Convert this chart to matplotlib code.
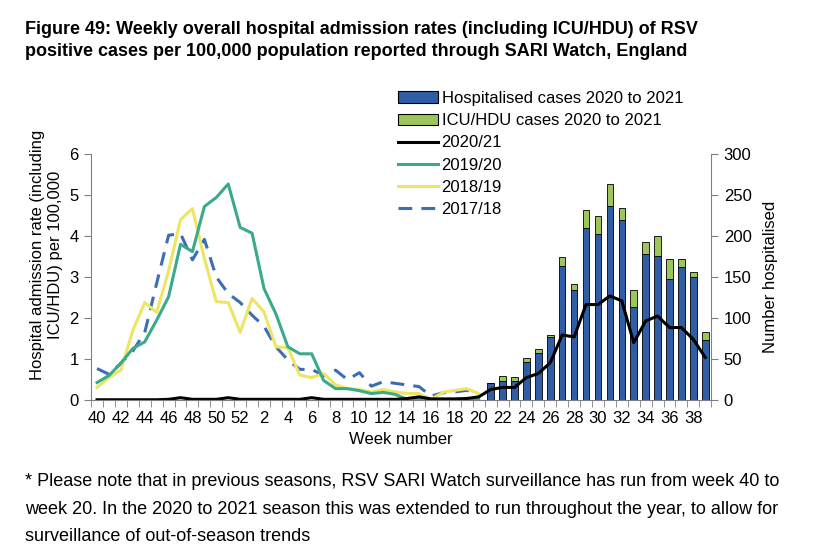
import numpy as np
import matplotlib
matplotlib.use("Agg")
import matplotlib.pyplot as plt
from matplotlib.lines import Line2D
from matplotlib.patches import Patch

plt.rcParams['font.family'] = ['Liberation Sans', 'DejaVu Sans']

## Week axis (week 40 of 2020 to week 39 of 2021)
weeks = list(range(40, 53)) + list(range(1, 40))
week_labels = [str(w) if i % 2 == 0 else "" for i, w in enumerate(weeks)]

## Previous seasons, week 40 to week 20 (rate per 100,000)
rate_1920 = [0.43, 0.6, 0.9, 1.26, 1.42, 1.95, 2.52, 3.8, 3.62, 4.72, 4.94, 5.27, 4.21,
             4.07, 2.72, 2.1, 1.3, 1.13, 1.13, 0.48, 0.28, 0.28, 0.23, 0.16, 0.19, 0.14,
             0.02, 0.02, 0.02, 0.02, 0.02, 0.02, 0.02]
rate_1819 = [0.31, 0.55, 0.73, 1.7, 2.38, 2.14, 3.15, 4.4, 4.67, 3.45, 2.4, 2.38, 1.65,
             2.48, 2.15, 1.3, 1.28, 0.61, 0.55, 0.65, 0.37, 0.28, 0.26, 0.2, 0.26, 0.2,
             0.16, 0.16, 0.02, 0.19, 0.24, 0.28, 0.16]
rate_1718 = [0.77, 0.63, 0.9, 1.2, 1.65, 2.85, 4.02, 4.06, 3.42, 3.92, 3.0, 2.6, 2.38,
             2.07, 1.8, 1.3, 0.98, 0.75, 0.75, 0.6, 0.73, 0.5, 0.67, 0.34, 0.45, 0.41,
             0.37, 0.33, 0.1, 0.18, 0.2, 0.24, 0.15]

## 2020/21 season, full year
rate_2021 = [0.01, 0.01, 0.01, 0.01, 0.01, 0.01, 0.02, 0.06, 0.02, 0.02, 0.02, 0.06, 0.02,
             0.02, 0.02, 0.02, 0.02, 0.02, 0.06, 0.02, 0.02, 0.02, 0.02, 0.02, 0.02, 0.02,
             0.04, 0.08, 0.03, 0.03, 0.03, 0.04, 0.08, 0.26, 0.31, 0.31, 0.55, 0.65, 0.91,
             1.59, 1.54, 2.33, 2.33, 2.54, 2.42, 1.4, 1.93, 2.05, 1.77, 1.77, 1.48, 1.04]
hosp_2021 = [0] * 33 + [21, 23.6, 23.6, 46, 57, 77, 164, 134, 210, 202, 237, 219, 114,
                        178, 176, 148, 162, 150, 73]
icu_2021 = [0] * 33 + [0, 5.5, 5, 5, 5, 3, 10, 8, 22, 22, 26, 15, 20,
                       15, 24, 24, 10, 6, 10]

c_teal = "#3BAA8C"
c_yellow = "#EDE563"
c_dash = "#3D6DB5"
c_bar = "#2F5DA6"
c_icu = "#9CC65B"
c_spine = "#808080"

fig = plt.figure(figsize=(8.28, 5.55), dpi=100)
ax = fig.add_axes([0.110, 0.279, 0.749, 0.4435])
ax2 = ax.twinx()

x = np.arange(len(weeks))
xs = np.arange(len(rate_1920))

## Bars on the right axis
ax2.bar(x, hosp_2021, width=0.55, color=c_bar, edgecolor="black", linewidth=0.6)
ax2.bar(x, icu_2021, width=0.55, bottom=hosp_2021, color=c_icu, edgecolor="black", linewidth=0.6)

## Lines on the left axis
ax.plot(xs, rate_1718, color=c_dash, lw=2.2, dashes=(4.5, 3))
ax.plot(xs, rate_1819, color=c_yellow, lw=2.2)
ax.plot(xs, rate_1920, color=c_teal, lw=2.2)
ax.plot(x, rate_2021, color="black", lw=2.2)

ax.set_zorder(ax2.get_zorder() + 1)
ax.patch.set_visible(False)

ax.set_xlim(-0.5, len(weeks) - 0.5)
ax.set_ylim(0, 6)
ax2.set_ylim(0, 300)
ax.set_yticks(range(0, 7))
ax2.set_yticks(range(0, 301, 50))
ax.set_xticks(x)
ax.set_xticklabels(week_labels)
ax.set_xticks(np.arange(-0.5, len(weeks), 1), minor=True)
ax.tick_params(axis="x", which="major", length=0, pad=8, labelsize=12)
ax.tick_params(axis="x", which="minor", length=5, color=c_spine, direction="out")
ax.tick_params(axis="y", length=5, color=c_spine, labelsize=12, pad=4)
ax2.tick_params(axis="y", length=5, color=c_spine, labelsize=12, pad=4)

for a in (ax, ax2):
    a.spines["top"].set_visible(False)
    for s in ("left", "right", "bottom"):
        a.spines[s].set_color(c_spine)
ax.spines["right"].set_visible(False)
ax2.spines["left"].set_visible(False)
ax2.spines["bottom"].set_visible(False)

ax.set_xlabel("Week number", size=12, labelpad=4)
ax.set_ylabel("Hospital admission rate (including\nICU/HDU) per 100,000", size=12)
ax.yaxis.set_label_coords(-0.046, 0.59)
ax2.set_ylabel("Number hospitalised", size=12, labelpad=8)

## Legend
handles = [
    Patch(facecolor=c_bar, edgecolor="black", linewidth=0.8),
    Patch(facecolor=c_icu, edgecolor="black", linewidth=0.8),
    Line2D([], [], color="black", lw=2.2),
    Line2D([], [], color=c_teal, lw=2.2),
    Line2D([], [], color=c_yellow, lw=2.2),
    Line2D([], [], color=c_dash, lw=2.2, dashes=(4.5, 3)),
]
labels = ["Hospitalised cases 2020 to 2021", "ICU/HDU cases 2020 to 2021",
          "2020/21", "2019/20", "2018/19", "2017/18"]
fig.legend(handles, labels, loc="upper left", bbox_to_anchor=(0.481, 0.836),
           frameon=False, fontsize=12, handlelength=2.4, handletextpad=0.2,
           labelspacing=0.43, borderpad=0, borderaxespad=0)

fig.text(0.030, 0.962, "Figure 49: Weekly overall hospital admission rates (including ICU/HDU) of RSV\n"
         "positive cases per 100,000 population reported through SARI Watch, England",
         ha="left", va="top", size=13, weight="bold", linespacing=1.35)
fig.text(0.030, 0.147, "* Please note that in previous seasons, RSV SARI Watch surveillance has run from week 40 to\n"
         "week 20. In the 2020 to 2021 season this was extended to run throughout the year, to allow for\n"
         "surveillance of out-of-season trends",
         ha="left", va="top", size=13, linespacing=1.78)

fig.savefig("out.png", dpi=100)
